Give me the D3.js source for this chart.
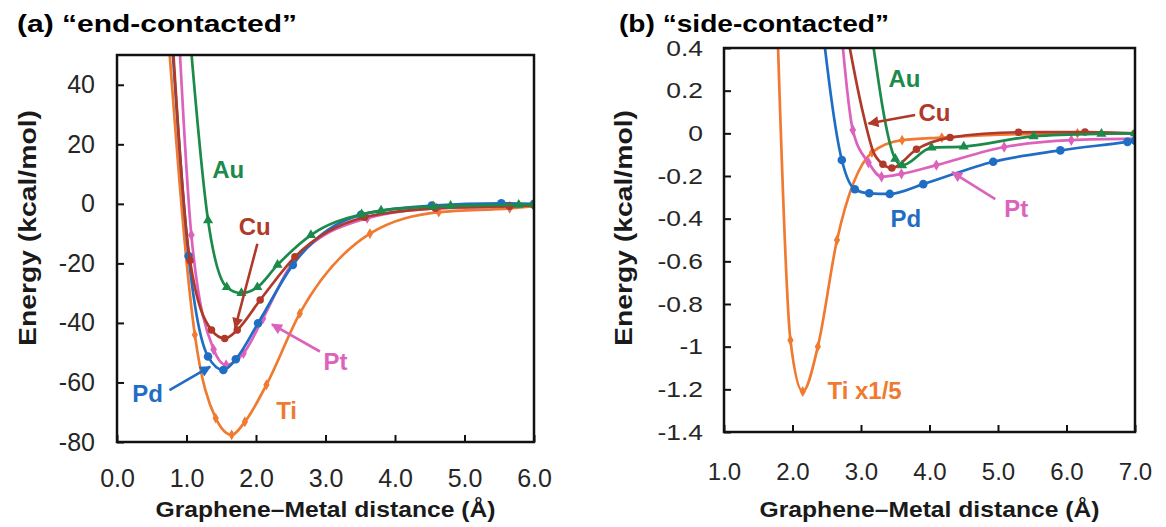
<!DOCTYPE html>
<html>
<head>
<meta charset="utf-8">
<script src="https://cdn.jsdelivr.net/npm/d3@7"></script>
<style>
  body { margin: 0; background: #fff; }
  svg { font-family: "Liberation Sans", Arial, sans-serif; }
</style>
</head>
<body>
<svg id="chart" width="1166" height="527"></svg>
<script>
// tick values
const endXTicks = [0, 1, 2, 3, 4, 5, 6];
const endYTicks = [40, 20, 0, -20, -40, -60, -80];
const sideXTicks = [1, 2, 3, 4, 5, 6, 7];
const sideYTicks = [0.4, 0.2, 0, -0.2, -0.4, -0.6, -0.8, -1, -1.2, -1.4];

// (a) end-contacted, energy in kcal/mol vs distance in A
// "lead" = points on the steep part of the curve (no marker drawn)
const endAuLead = [[1.03, 62]];
const endAu = [[1.31, -5.5], [1.58, -28], [1.79, -30], [2.02, -28], [2.31, -20.5], [2.79, -10.5],
               [3.52, -3.5], [3.8, -2.3], [4.55, -0.9], [4.8, -0.7], [5.78, -0.3], [6.0, -0.2]];
const endCuLead = [[0.78, 62]];
const endCu = [[1.05, -19], [1.36, -42.4], [1.55, -45.2], [1.73, -42.4], [2.06, -32.3], [2.56, -17.8],
               [3.56, -4.5], [4.58, -1.5], [5.65, -0.8], [6.0, -0.5]];
const endPdLead = [[0.77, 62]];
const endPd = [[1.03, -17.5], [1.31, -51.3], [1.53, -55.8], [1.71, -52.2], [2.03, -40.1], [2.53, -20.5],
               [3.51, -3.7], [4.53, -0.6], [5.53, 0.2], [6.0, 0]];
const endPtLead = [[0.88, 62]];
const endPt = [[1.07, -10.5], [1.39, -48.9], [1.57, -54.1], [1.82, -50.2], [2.1, -38.5], [2.54, -19.4],
               [3.6, -4.8], [4.6, -1.5], [5.65, -0.9], [6.0, -0.5]];
const endTiLead = [[0.72, 62]];
const endTi = [[1.12, -44], [1.42, -72], [1.65, -77.6], [1.84, -73.2], [2.15, -60.8], [2.63, -36.8],
               [3.64, -10], [4.63, -2.8], [5.65, -1.5], [6.0, -0.8]];

// (b) side-contacted
const sideAuLead = [[3.12, 0.55]];
const sideAu = [[3.5, -0.12], [3.6, -0.15], [4.03, -0.067], [4.5, -0.062], [5.52, -0.014], [6.51, -0.002], [7.0, 0]];
const sideCuLead = [[2.75, 0.55], [3.03, 0.094], [3.18, -0.086]];
const sideCu = [[3.32, -0.145], [3.45, -0.163], [3.81, -0.075], [4.3, -0.02], [5.3, 0.005], [6.27, 0.006], [7.0, 0]];
const sidePdLead = [[2.4, 0.6]];
const sidePd = [[2.72, -0.125], [2.91, -0.262], [3.12, -0.281], [3.42, -0.284], [3.91, -0.238],
                [4.93, -0.133], [5.91, -0.08], [6.89, -0.04], [7.0, -0.035]];
const sidePtLead = [[2.68, 0.6]];
const sidePt = [[2.88, 0.016], [3.11, -0.138], [3.3, -0.203], [3.59, -0.19], [4.1, -0.149],
                [5.09, -0.064], [6.07, -0.032], [7.0, -0.025]];
const sideTiLead = [[1.77, 0.6]];   // Ti values are x1/5
const sideTi = [[1.97, -0.97], [2.15, -1.21], [2.37, -1.0], [2.65, -0.5], [3.16, -0.09], [3.6, -0.032],
                [4.18, -0.02], [6.16, 0.0], [7.0, 0]];

const colors = {Au: "#1b8a4b", Cu: "#b0392a", Pd: "#1f6ec4", Pt: "#dc62bc", Ti: "#f07a30"};
const symbols = {Au: d3.symbolTriangle, Cu: d3.symbolCircle, Pd: d3.symbolCircle, Pt: d3.symbolDiamond, Ti: d3.symbolDiamond};
const symSize = {Au: 44, Cu: 44, Pd: 58, Pt: 38, Ti: 34};

const svg = d3.select("#chart");
const defs = svg.append("defs");

Object.keys(colors).forEach(function (k) {
  defs.append("marker")
    .attr("id", "arr-" + k)
    .attr("viewBox", "0 0 10 10")
    .attr("refX", 9).attr("refY", 5)
    .attr("markerUnits", "userSpaceOnUse")
    .attr("markerWidth", 12).attr("markerHeight", 11)
    .attr("orient", "auto")
    .append("path").attr("d", "M0,0 L10,5 L0,10 z").attr("fill", colors[k]);
});

function drawPanel(cfg) {
  const x = d3.scaleLinear().domain(cfg.xDomain).range([cfg.left, cfg.right]);
  const y = d3.scaleLinear().domain(cfg.yDomain).range([cfg.bottom, cfg.top]);
  const g = svg.append("g");

  defs.append("clipPath").attr("id", "clip-" + cfg.id)
    .append("rect")
    .attr("x", cfg.left).attr("y", cfg.top)
    .attr("width", cfg.right - cfg.left).attr("height", cfg.bottom - cfg.top);

  const line = d3.line()
    .x(d => x(d[0]))
    .y(d => y(d[1]))
    .curve(d3.curveMonotoneX);

  const plot = g.append("g").attr("clip-path", "url(#clip-" + cfg.id + ")");

  cfg.series.forEach(function (s) {
    plot.append("path")
      .attr("d", line(s.lead.concat(s.pts)))
      .attr("fill", "none")
      .attr("stroke", colors[s.name])
      .attr("stroke-width", 2.7);
    plot.selectAll(null)
      .data(s.pts)
      .join("path")
      .attr("d", d3.symbol(symbols[s.name], symSize[s.name]))
      .attr("transform", d => "translate(" + x(d[0]) + "," + y(d[1]) + ")")
      .attr("fill", colors[s.name]);
  });

  // axes, ticks point inward
  g.append("g")
    .attr("transform", "translate(" + cfg.left + ",0)")
    .call(d3.axisLeft(y).tickValues(cfg.yTicks).tickSizeInner(-7).tickSizeOuter(0)
      .tickPadding(cfg.yPad).tickFormat(d => String(d)))
    .call(a => a.select(".domain").remove())
    .call(a => a.selectAll("line").attr("stroke", "#111").attr("stroke-width", 2))
    .call(a => a.selectAll("text")
      .attr("font-size", cfg.yFont)
      .attr("fill", "#262626")
      .attr("x", -cfg.yPad / cfg.ySx)
      .attr("transform", "scale(" + cfg.ySx + ",1)"));

  g.append("g")
    .attr("transform", "translate(0," + cfg.bottom + ")")
    .call(d3.axisBottom(x).tickValues(cfg.xTicks).tickSizeInner(-7).tickSizeOuter(0)
      .tickPadding(cfg.xPad).tickFormat(d => d.toFixed(1)))
    .call(a => a.select(".domain").remove())
    .call(a => a.selectAll("line").attr("stroke", "#111").attr("stroke-width", 2))
    .call(a => a.selectAll("text").attr("font-size", cfg.xFont).attr("fill", "#262626"));

  g.append("rect")
    .attr("x", cfg.left).attr("y", cfg.top)
    .attr("width", cfg.right - cfg.left).attr("height", cfg.bottom - cfg.top)
    .attr("fill", "none").attr("stroke", "#111").attr("stroke-width", 2.5);

  // curve labels + arrows
  cfg.notes.forEach(function (n) {
    g.append("text")
      .attr("x", x(n.at[0])).attr("y", y(n.at[1]))
      .attr("font-size", 24).attr("font-weight", "bold")
      .attr("fill", colors[n.name])
      .text(n.text);
    if (n.arrow) {
      g.append("line")
        .attr("x1", x(n.arrow[0][0])).attr("y1", y(n.arrow[0][1]))
        .attr("x2", x(n.arrow[1][0])).attr("y2", y(n.arrow[1][1]))
        .attr("stroke", colors[n.name]).attr("stroke-width", 2.6)
        .attr("marker-end", "url(#arr-" + n.name + ")");
    }
  });

  // titles
  g.append("text")
    .attr("x", cfg.titleX).attr("y", 32)
    .attr("font-size", 24).attr("font-weight", "bold")
    .attr("textLength", cfg.titleLen).attr("lengthAdjust", "spacingAndGlyphs")
    .text(cfg.title);

  g.append("text")
    .attr("x", (cfg.left + cfg.right) / 2).attr("y", 517)
    .attr("text-anchor", "middle")
    .attr("font-size", 22).attr("font-weight", "bold").attr("fill", "#1a1a1a")
    .attr("textLength", 340).attr("lengthAdjust", "spacingAndGlyphs")
    .text("Graphene–Metal distance (Å)");

  g.append("text")
    .attr("transform", "translate(" + cfg.yTitleX + ",228) rotate(-90)")
    .attr("text-anchor", "middle")
    .attr("font-size", 24).attr("font-weight", "bold").attr("fill", "#1a1a1a")
    .attr("textLength", 236).attr("lengthAdjust", "spacingAndGlyphs")
    .text("Energy (kcal/mol)");
}

drawPanel({
  id: "a", left: 117, right: 534, top: 55, bottom: 442,
  xDomain: [0, 6], yDomain: [-80, 50],
  xTicks: endXTicks, yTicks: endYTicks,
  yPad: 22, yFont: 25, ySx: 1, xPad: 27, xFont: 25,
  title: "(a) “end-contacted”", titleX: 17, titleLen: 280, yTitleX: 36,
  series: [
    {name: "Ti", lead: endTiLead, pts: endTi},
    {name: "Pt", lead: endPtLead, pts: endPt},
    {name: "Pd", lead: endPdLead, pts: endPd},
    {name: "Cu", lead: endCuLead, pts: endCu},
    {name: "Au", lead: endAuLead, pts: endAu}
  ],
  notes: [
    {name: "Au", text: "Au", at: [1.37, 8.7]},
    {name: "Cu", text: "Cu", at: [1.75, -10.5], arrow: [[2.02, -13.4], [1.7, -41.7]]},
    {name: "Pt", text: "Pt", at: [2.97, -55.8], arrow: [[2.92, -49.6], [2.23, -40.5]]},
    {name: "Pd", text: "Pd", at: [0.22, -66.6], arrow: [[0.755, -62.6], [1.34, -54.7]]},
    {name: "Ti", text: "Ti", at: [2.29, -72.3]}
  ]
});

drawPanel({
  id: "b", left: 724, right: 1135, top: 48, bottom: 432,
  xDomain: [1, 7], yDomain: [-1.4, 0.4],
  xTicks: sideXTicks, yTicks: sideYTicks,
  yPad: 21, yFont: 22, ySx: 1.2, xPad: 31, xFont: 24,
  title: "(b) “side-contacted”", titleX: 619, titleLen: 270, yTitleX: 632,
  series: [
    {name: "Ti", lead: sideTiLead, pts: sideTi},
    {name: "Pt", lead: sidePtLead, pts: sidePt},
    {name: "Pd", lead: sidePdLead, pts: sidePd},
    {name: "Cu", lead: sideCuLead, pts: sideCu},
    {name: "Au", lead: sideAuLead, pts: sideAu}
  ],
  notes: [
    {name: "Au", text: "Au", at: [3.4, 0.219]},
    {name: "Cu", text: "Cu", at: [3.84, 0.057], arrow: [[3.79, 0.086], [3.11, 0.046]]},
    {name: "Pt", text: "Pt", at: [5.09, -0.394], arrow: [[4.96, -0.308], [4.33, -0.182]]},
    {name: "Pd", text: "Pd", at: [3.43, -0.441]},
    {name: "Ti", text: "Ti x1/5", at: [2.51, -1.243]}
  ]
});
</script>
</body>
</html>
